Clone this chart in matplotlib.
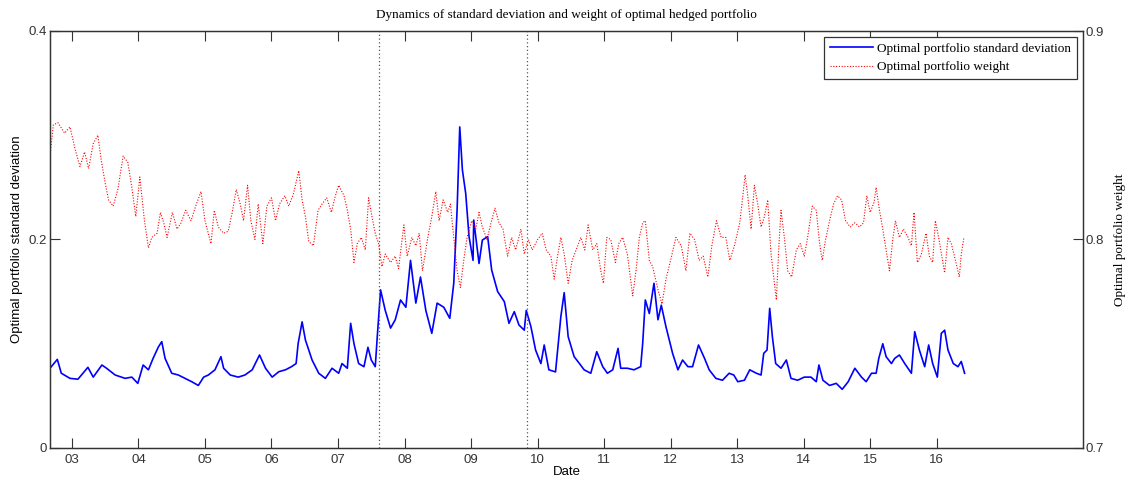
import matplotlib
matplotlib.use("Agg")
import matplotlib.pyplot as plt
import numpy as np

# ---- data (year as fractional number) ----
sd_year = [2002.67, 2002.78, 2002.84, 2002.97, 2003.09, 2003.24, 2003.32, 2003.45, 2003.52, 2003.65,
           2003.80, 2003.90, 2003.99, 2004.07, 2004.15, 2004.22, 2004.30, 2004.35, 2004.40, 2004.50,
           2004.60, 2004.70, 2004.80, 2004.90, 2004.98, 2005.05, 2005.15, 2005.24, 2005.28, 2005.38,
           2005.50, 2005.60, 2005.71, 2005.82, 2005.91, 2006.01, 2006.11, 2006.21, 2006.30, 2006.37,
           2006.40, 2006.46, 2006.51, 2006.61, 2006.71, 2006.81, 2006.91, 2007.01, 2007.06, 2007.14,
           2007.19, 2007.24, 2007.31, 2007.39, 2007.45, 2007.50, 2007.56, 2007.59, 2007.64, 2007.71,
           2007.79, 2007.86, 2007.94, 2008.02, 2008.09, 2008.17, 2008.24, 2008.32, 2008.41, 2008.49,
           2008.59, 2008.68, 2008.74, 2008.79, 2008.83, 2008.87, 2008.92, 2008.97, 2009.03, 2009.04,
           2009.12, 2009.17, 2009.25, 2009.31, 2009.40, 2009.50, 2009.57, 2009.65, 2009.72, 2009.80,
           2009.83, 2009.90, 2009.97, 2010.05, 2010.10, 2010.17, 2010.27, 2010.35, 2010.40, 2010.46,
           2010.55, 2010.63, 2010.70, 2010.80, 2010.89, 2010.98, 2011.05, 2011.13, 2011.21, 2011.25,
           2011.35, 2011.45, 2011.55, 2011.58, 2011.62, 2011.68, 2011.75, 2011.81, 2011.86, 2011.93,
           2012.03, 2012.11, 2012.18, 2012.26, 2012.33, 2012.42, 2012.51, 2012.58, 2012.68, 2012.78,
           2012.88, 2012.95, 2013.01, 2013.11, 2013.19, 2013.29, 2013.36, 2013.40, 2013.45, 2013.49,
           2013.53, 2013.58, 2013.66, 2013.74, 2013.81, 2013.91, 2014.01, 2014.11, 2014.19, 2014.23,
           2014.29, 2014.39, 2014.49, 2014.58, 2014.67, 2014.77, 2014.87, 2014.94, 2015.02, 2015.09,
           2015.13, 2015.19, 2015.24, 2015.32, 2015.37, 2015.44, 2015.52, 2015.62, 2015.67, 2015.74,
           2015.82, 2015.88, 2015.94, 2016.01, 2016.07, 2016.12, 2016.17, 2016.25, 2016.32, 2016.37,
           2016.42]
sd_value = [0.0765, 0.085, 0.0717, 0.0668, 0.066, 0.0774, 0.068, 0.0796, 0.0765, 0.070,
            0.0668, 0.068, 0.062, 0.0796, 0.075, 0.086, 0.097, 0.102, 0.086, 0.0717,
            0.070, 0.0668, 0.0636, 0.060, 0.068, 0.070, 0.075, 0.0876, 0.0765, 0.070,
            0.068, 0.070, 0.075, 0.0892, 0.0765, 0.068, 0.0732, 0.075, 0.078, 0.081,
            0.100, 0.121, 0.1036, 0.0844, 0.0717, 0.0668, 0.0765, 0.0717, 0.081, 0.0765,
            0.1196, 0.100, 0.081, 0.078, 0.0966, 0.0844, 0.078, 0.1068, 0.1516, 0.132,
            0.115, 0.123, 0.142, 0.135, 0.180, 0.139, 0.164, 0.132, 0.110, 0.139,
            0.135, 0.1244, 0.158, 0.228, 0.308, 0.2667, 0.244, 0.2027, 0.180, 0.2187,
            0.177, 0.1995, 0.2027, 0.1707, 0.150, 0.1404, 0.1196, 0.1308, 0.118, 0.113,
            0.132, 0.1164, 0.094, 0.081, 0.0988, 0.075, 0.073, 0.126, 0.149, 0.1068,
            0.0876, 0.081, 0.075, 0.0717, 0.0924, 0.078, 0.0717, 0.075, 0.0956, 0.0765,
            0.0765, 0.075, 0.078, 0.100, 0.142, 0.129, 0.158, 0.123, 0.137, 0.1164,
            0.0908, 0.075, 0.0844, 0.078, 0.078, 0.0988, 0.086, 0.075, 0.0668, 0.065,
            0.0717, 0.070, 0.0636, 0.065, 0.075, 0.0717, 0.070, 0.0908, 0.094, 0.134,
            0.1068, 0.081, 0.0765, 0.0844, 0.0668, 0.065, 0.068, 0.068, 0.0636, 0.0796,
            0.065, 0.060, 0.062, 0.0563, 0.0636, 0.0765, 0.068, 0.0636, 0.0717, 0.0717,
            0.086, 0.100, 0.0876, 0.081, 0.086, 0.0892, 0.081, 0.0717, 0.1116, 0.094,
            0.078, 0.0988, 0.081, 0.068, 0.110, 0.113, 0.094, 0.081, 0.078, 0.083,
            0.0717]

w_year = [2002.67, 2002.72, 2002.79, 2002.89, 2002.97, 2003.05, 2003.12, 2003.19, 2003.25, 2003.32,
          2003.39, 2003.44, 2003.50, 2003.55, 2003.62, 2003.69, 2003.77, 2003.84, 2003.90, 2003.96,
          2004.02, 2004.09, 2004.15, 2004.20, 2004.28, 2004.33, 2004.38, 2004.43, 2004.51, 2004.58,
          2004.64, 2004.71, 2004.79, 2004.86, 2004.94, 2005.00, 2005.09, 2005.14, 2005.20, 2005.28,
          2005.35, 2005.41, 2005.47, 2005.53, 2005.58, 2005.64, 2005.69, 2005.75, 2005.80, 2005.87,
          2005.93, 2006.00, 2006.06, 2006.12, 2006.20, 2006.26, 2006.33, 2006.41, 2006.46, 2006.51,
          2006.56, 2006.63, 2006.70, 2006.76, 2006.83, 2006.90, 2006.96, 2007.01, 2007.09, 2007.14,
          2007.19, 2007.24, 2007.29, 2007.35, 2007.41, 2007.46, 2007.51, 2007.56, 2007.61, 2007.66,
          2007.71, 2007.79, 2007.86, 2007.91, 2007.99, 2008.04, 2008.11, 2008.17, 2008.22, 2008.27,
          2008.35, 2008.41, 2008.47, 2008.52, 2008.58, 2008.65, 2008.69, 2008.74, 2008.79, 2008.84,
          2008.89, 2008.94, 2009.01, 2009.07, 2009.12, 2009.17, 2009.24, 2009.30, 2009.36, 2009.42,
          2009.48, 2009.55, 2009.61, 2009.67, 2009.75, 2009.80, 2009.86, 2009.92, 2010.00, 2010.07,
          2010.13, 2010.20, 2010.25, 2010.30, 2010.35, 2010.40, 2010.46, 2010.52, 2010.58, 2010.65,
          2010.71, 2010.76, 2010.83, 2010.89, 2010.95, 2010.99, 2011.04, 2011.10, 2011.17, 2011.22,
          2011.28, 2011.35, 2011.43, 2011.48, 2011.53, 2011.58, 2011.62, 2011.68, 2011.73, 2011.81,
          2011.87, 2011.93, 2012.00, 2012.08, 2012.16, 2012.23, 2012.29, 2012.36, 2012.43, 2012.49,
          2012.56, 2012.62, 2012.69, 2012.76, 2012.83, 2012.89, 2012.96, 2013.04, 2013.09, 2013.12,
          2013.16, 2013.21, 2013.26, 2013.31, 2013.36, 2013.41, 2013.46, 2013.51, 2013.55, 2013.59,
          2013.63, 2013.66, 2013.71, 2013.76, 2013.82, 2013.89, 2013.95, 2014.01, 2014.06, 2014.13,
          2014.19, 2014.24, 2014.28, 2014.33, 2014.39, 2014.45, 2014.51, 2014.57, 2014.63, 2014.70,
          2014.77, 2014.84, 2014.90, 2014.95, 2015.00, 2015.06, 2015.09, 2015.14, 2015.19, 2015.24,
          2015.29, 2015.34, 2015.38, 2015.44, 2015.50, 2015.57, 2015.62, 2015.66, 2015.71, 2015.77,
          2015.84, 2015.89, 2015.94, 2015.98, 2016.03, 2016.12, 2016.17, 2016.22, 2016.29, 2016.34,
          2016.37, 2016.41]
w_value = [0.840, 0.855, 0.856, 0.851, 0.854, 0.843, 0.835, 0.842, 0.834, 0.846,
           0.850, 0.838, 0.827, 0.819, 0.816, 0.824, 0.840, 0.837, 0.825, 0.811,
           0.830, 0.809, 0.796, 0.801, 0.803, 0.813, 0.808, 0.801, 0.813, 0.805,
           0.808, 0.814, 0.809, 0.816, 0.823, 0.809, 0.798, 0.814, 0.806, 0.803,
           0.804, 0.813, 0.824, 0.817, 0.809, 0.826, 0.809, 0.800, 0.817, 0.798,
           0.816, 0.820, 0.809, 0.817, 0.821, 0.816, 0.822, 0.833, 0.819, 0.811,
           0.799, 0.797, 0.814, 0.817, 0.820, 0.813, 0.821, 0.826, 0.821, 0.814,
           0.805, 0.789, 0.798, 0.801, 0.795, 0.820, 0.811, 0.803, 0.798, 0.787,
           0.793, 0.789, 0.792, 0.786, 0.807, 0.792, 0.801, 0.797, 0.803, 0.785,
           0.801, 0.811, 0.823, 0.809, 0.819, 0.813, 0.817, 0.801, 0.785, 0.777,
           0.790, 0.801, 0.809, 0.805, 0.813, 0.806, 0.800, 0.808, 0.815, 0.808,
           0.805, 0.792, 0.801, 0.795, 0.805, 0.793, 0.800, 0.795, 0.800, 0.803,
           0.795, 0.792, 0.781, 0.792, 0.801, 0.793, 0.779, 0.790, 0.795, 0.801,
           0.795, 0.807, 0.795, 0.798, 0.785, 0.779, 0.801, 0.800, 0.789, 0.798,
           0.801, 0.793, 0.773, 0.785, 0.801, 0.808, 0.809, 0.790, 0.787, 0.776,
           0.769, 0.781, 0.790, 0.801, 0.797, 0.785, 0.803, 0.800, 0.790, 0.792,
           0.782, 0.797, 0.809, 0.801, 0.801, 0.790, 0.797, 0.808, 0.822, 0.831,
           0.821, 0.805, 0.826, 0.817, 0.806, 0.811, 0.819, 0.793, 0.782, 0.771,
           0.798, 0.814, 0.801, 0.785, 0.782, 0.795, 0.798, 0.792, 0.801, 0.816,
           0.814, 0.798, 0.790, 0.800, 0.809, 0.817, 0.821, 0.819, 0.809, 0.806,
           0.808, 0.806, 0.808, 0.821, 0.813, 0.818, 0.825, 0.814, 0.805, 0.795,
           0.785, 0.800, 0.809, 0.801, 0.805, 0.801, 0.797, 0.813, 0.789, 0.793,
           0.803, 0.792, 0.789, 0.809, 0.801, 0.784, 0.801, 0.798, 0.789, 0.782,
           0.793, 0.801]

crisis_lines = [2007.61, 2009.84]
tick_years = list(range(2003, 2017))
tick_labels = ["%02d" % (y % 100) for y in tick_years]

title = "Dynamics of standard deviation and weight of optimal hedged portfolio"
left_label = "Optimal portfolio standard deviation"
right_label = "Optimal portfolio weight"
x_label = "Date"
sd_name = "Optimal portfolio standard deviation"
w_name = "Optimal portfolio weight"

# ---- figure ----
W, H = 1126, 479
fig = plt.figure(figsize=(W / 100, H / 100), dpi=100)
ax = fig.add_axes([50 / W, (H - 448) / H, (1083 - 50) / W, (448 - 31) / H])
ax2 = ax.twinx()

sans = "Liberation Sans"
serif = "Liberation Serif"

l1, = ax.plot(sd_year, sd_value, color="#0000ff", lw=1.2, label=sd_name)
l2, = ax2.plot(w_year, w_value, color="#ff0000", lw=0.8, linestyle=(0, (1, 1.5)), label=w_name)

for xv in crisis_lines:
    ax.axvline(xv, color="#555555", lw=0.9, linestyle=(0, (1, 2)))

ax.set_xlim(2002.67, 2018.2)
ax.set_ylim(0, 0.4)
ax2.set_ylim(0.7, 0.9)

ax.set_xticks(tick_years)
ax.set_xticklabels(tick_labels, fontfamily=sans, fontsize=9.5, color="#333333")
ax.set_yticks([0, 0.2, 0.4])
ax.set_yticklabels(["0", "0.2", "0.4"], fontfamily=sans, fontsize=9.5, color="#333333")
ax2.set_yticks([0.7, 0.8, 0.9])
ax2.set_yticklabels(["0.7", "0.8", "0.9"], fontfamily=sans, fontsize=9.5, color="#333333")

ax.tick_params(axis="x", direction="in", length=7, width=0.8, top=True, pad=4, colors="#333333")
ax.tick_params(axis="y", direction="in", length=7, width=0.8, pad=2, colors="#333333")
ax2.tick_params(axis="y", direction="in", length=7, width=0.8, pad=2, colors="#333333")

for a in (ax, ax2):
    for s in a.spines.values():
        s.set_color("#333333")
        s.set_linewidth(0.9)

ax.set_title(title, fontfamily=serif, fontsize=9.5, pad=9)
ax.set_xlabel(x_label, fontfamily=sans, fontsize=9.5, labelpad=0)
ax.set_ylabel(left_label, fontfamily=sans, fontsize=9.5, labelpad=4)
ax2.set_ylabel(right_label, fontfamily=serif, fontsize=9.5, labelpad=7)

leg = ax2.legend([l1, l2], [sd_name, w_name], loc="upper right",
                 prop={"family": serif, "size": 9.5}, frameon=True, fancybox=False,
                 edgecolor="#333333", framealpha=1, handlelength=3.3, handletextpad=0.3,
                 borderpad=0.45, labelspacing=0.45, borderaxespad=0.45)
leg.get_frame().set_linewidth(0.9)

fig.savefig("out.png", dpi=100)
